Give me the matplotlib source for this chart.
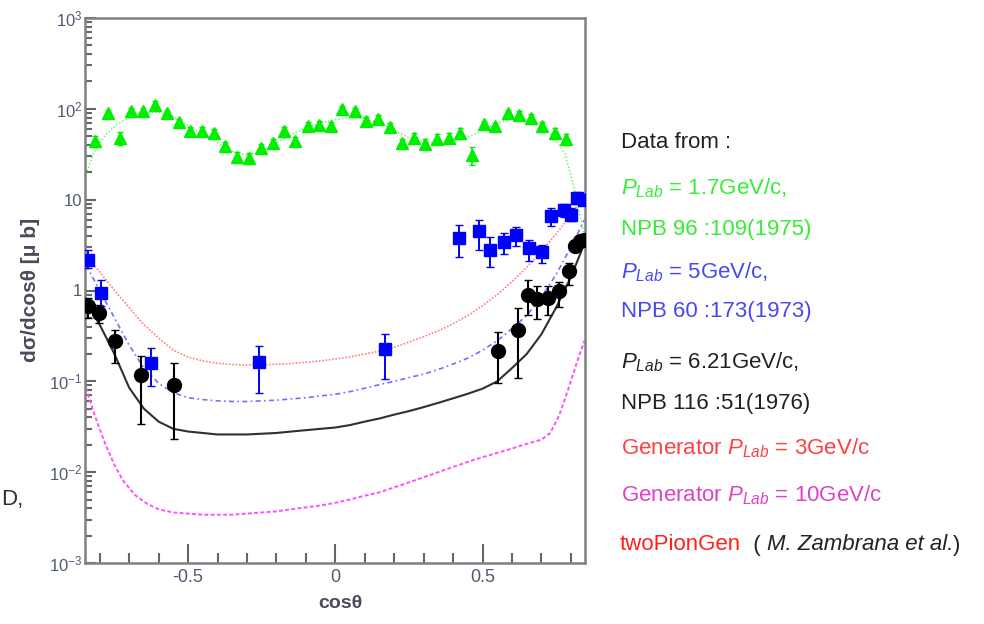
import matplotlib
matplotlib.use("Agg")
from matplotlib import pyplot as plt
from matplotlib.ticker import FixedLocator, FixedFormatter, LogLocator, NullFormatter

plt.rcParams['font.family'] = ['Liberation Sans', 'DejaVu Sans']
plt.rcParams['mathtext.fontset'] = 'custom'
plt.rcParams['mathtext.rm'] = 'Liberation Sans'
plt.rcParams['mathtext.it'] = 'Liberation Sans:italic'
plt.rcParams['axes.unicode_minus'] = False

# data points: P_lab = 1.7 GeV/c (green)
green_x = [-0.815, -0.772, -0.732, -0.693, -0.654, -0.613, -0.571, -0.532, -0.493, -0.453,
           -0.413, -0.374, -0.334, -0.294, -0.252, -0.213, -0.175, -0.136, -0.093, -0.054,
           -0.015, 0.024, 0.066, 0.105, 0.145, 0.187, 0.227, 0.266, 0.306, 0.346,
           0.385, 0.425, 0.464, 0.504, 0.544, 0.586, 0.625, 0.665, 0.702, 0.745, 0.784]
green_y = [43.8, 90, 47.7, 93.7, 93.7, 111, 90, 71, 56.5, 56.5,
           54.2, 38.6, 29.5, 28.7, 37, 42, 56.5, 43.8, 65.2, 66.9,
           65.2, 98.4, 93.7, 74, 77.9, 63.1, 42, 47.7, 41.3, 46.5,
           47.7, 54.2, 31.3, 68.1, 64.1, 90, 86.2, 79.3, 64.1, 54.2, 46.5]
green_err = [6, 8, 8, 8, 8, 10, 8, 7, 6, 6, 6, 5, 4, 4, 4, 5, 6, 5, 6, 6,
             6, 8, 8, 7, 7, 6, 5, 6, 5, 6, 6, 7, 7, 6, 6, 8, 8, 8, 8, 8, 7]

# P_lab = 5 GeV/c (blue)
blue_x = [-0.839, -0.795, -0.626, -0.260, 0.168, 0.421, 0.487, 0.527, 0.572, 0.615,
          0.657, 0.703, 0.734, 0.776, 0.799, 0.821, 0.845]
blue_y = [2.18, 0.94, 0.161, 0.163, 0.227, 3.78, 4.48, 2.76, 3.39, 4.11,
          2.94, 2.63, 6.54, 7.62, 6.83, 10.4, 10.0]
blue_hi = [2.81, 1.29, 0.233, 0.242, 0.332, 5.31, 6.0, 3.88, 4.29, 4.95,
           3.56, 3.19, 8.1, 9.0, 8.0, 12.0, 11.5]
blue_lo = [1.77, 0.668, 0.088, 0.0753, 0.107, 2.34, 2.81, 1.81, 2.54, 3.06,
           2.09, 2.0, 5.08, 6.4, 5.8, 9.0, 8.8]

# P_lab = 6.21 GeV/c (black)
black_x = [-0.840, -0.804, -0.747, -0.660, -0.548, 0.552, 0.619, 0.655, 0.685, 0.722,
           0.759, 0.793, 0.815, 0.832, 0.846]
black_y = [0.68, 0.565, 0.275, 0.118, 0.092, 0.217, 0.37, 0.90, 0.81, 0.83,
           0.98, 1.62, 3.11, 3.5, 3.6]
black_hi = [0.82, 0.70, 0.37, 0.188, 0.159, 0.349, 0.64, 1.31, 1.13, 1.13,
            1.25, 2.0, 3.6, 3.9, 4.0]
black_lo = [0.50, 0.44, 0.159, 0.034, 0.0232, 0.096, 0.109, 0.54, 0.486, 0.54,
            0.66, 1.16, 2.7, 3.1, 3.2]

# generator curves
curve_x = [-0.846, -0.80, -0.75, -0.70, -0.65, -0.60, -0.55, -0.50, -0.45, -0.40,
           -0.35, -0.30, -0.25, -0.20, -0.15, -0.10, -0.05, 0.0, 0.05, 0.10,
           0.15, 0.20, 0.25, 0.30, 0.35, 0.40, 0.45, 0.50, 0.55, 0.60,
           0.65, 0.70, 0.75, 0.80, 0.846]
red_y = [2.4, 1.6, 1.0, 0.65, 0.42, 0.30, 0.22, 0.185, 0.168, 0.158,
         0.153, 0.151, 0.152, 0.154, 0.157, 0.162, 0.168, 0.176, 0.186, 0.20,
         0.215, 0.237, 0.27, 0.31, 0.36, 0.43, 0.53, 0.68, 0.90, 1.25,
         1.8, 2.7, 4.2, 6.8, 11.0]
blue_curve_y = [1.9, 1.0, 0.5, 0.25, 0.14, 0.095, 0.075, 0.066, 0.063, 0.061,
                0.060, 0.060, 0.061, 0.062, 0.064, 0.066, 0.069, 0.072, 0.077, 0.084,
                0.092, 0.10, 0.11, 0.12, 0.135, 0.155, 0.18, 0.22, 0.28, 0.38,
                0.53, 0.85, 1.5, 3.0, 6.0]
black_curve_y = [0.75, 0.42, 0.20, 0.085, 0.05, 0.036, 0.030, 0.028, 0.027, 0.026,
                 0.026, 0.026, 0.0265, 0.027, 0.028, 0.029, 0.030, 0.031, 0.033, 0.036,
                 0.039, 0.043, 0.047, 0.052, 0.058, 0.065, 0.073, 0.083, 0.10, 0.14,
                 0.20, 0.33, 0.65, 1.4, 3.3]

mag_x = [-0.846, -0.82, -0.80, -0.78, -0.75, -0.72, -0.68, -0.64, -0.60, -0.55,
         -0.50, -0.45, -0.40, -0.35, -0.30, -0.25, -0.20, -0.15, -0.10, -0.05,
         0.0, 0.05, 0.10, 0.15, 0.20, 0.25, 0.30, 0.35, 0.40, 0.45,
         0.50, 0.55, 0.60, 0.65, 0.70, 0.73, 0.76, 0.79, 0.82, 0.846]
mag_y = [0.085, 0.045, 0.03, 0.02, 0.012, 0.008, 0.0056, 0.0045, 0.0039, 0.0036,
         0.0035, 0.0034, 0.0034, 0.0034, 0.0035, 0.0036, 0.0037, 0.0039, 0.0041, 0.0043,
         0.0046, 0.005, 0.0055, 0.006, 0.0068, 0.0077, 0.0088, 0.010, 0.0114, 0.013,
         0.0146, 0.0163, 0.0182, 0.0205, 0.0228, 0.027, 0.042, 0.08, 0.16, 0.28]

green_curve_x = [-0.846, -0.82, -0.78, -0.74, -0.70, -0.65, -0.60, -0.55, -0.50, -0.45,
                 -0.40, -0.35, -0.30, -0.25, -0.20, -0.15, -0.10, -0.05, 0.0, 0.05,
                 0.10, 0.15, 0.20, 0.25, 0.30, 0.35, 0.40, 0.45, 0.50, 0.55,
                 0.60, 0.65, 0.70, 0.74, 0.78, 0.81, 0.83, 0.846]
green_curve_y = [19, 33, 52, 68, 80, 90, 92, 82, 65, 52,
                 42, 34, 31, 34, 42, 52, 62, 70, 76, 80,
                 78, 70, 58, 48, 43, 42, 43, 48, 58, 70,
                 78, 76, 64, 50, 32, 14, 7, 4]

y_ticks = [1e-3, 1e-2, 1e-1, 1, 10, 1e2, 1e3]
y_labels = ['$10^{-3}$', '$10^{-2}$', '$10^{-1}$', '1', '10', '$10^{2}$', '$10^{3}$']
x_ticks = [-0.5, 0, 0.5]
x_labels = ['-0.5', '0', '0.5']
x_minor = [-0.8, -0.7, -0.6, -0.4, -0.3, -0.2, -0.1, 0.1, 0.2, 0.3, 0.4, 0.6, 0.7, 0.8]

fig = plt.figure(figsize=(9.84, 6.24), dpi=100)
ax = fig.add_axes([85/984, 1 - 563/624, 500/984, 545/624])

ax.plot(green_curve_x, green_curve_y, color='#40ff40', lw=1.0, ls=(0, (1, 1.5)))
ax.plot(curve_x, red_y, color='#ff8080', lw=1.2, ls=(0, (1, 1)))
ax.plot(curve_x, blue_curve_y, color='#7070ff', lw=1.2, ls=(0, (3, 2, 1, 2)))
ax.plot(curve_x, black_curve_y, color='#303030', lw=1.5, ls='-')
ax.plot(mag_x, mag_y, color='#ff50ff', lw=1.4, ls=(0, (2, 1.2)))

ax.errorbar(green_x, green_y, yerr=green_err, fmt='^', color='#00ee00', ms=9,
            mec='#00ee00', elinewidth=1.2, capsize=2.5, zorder=3)
b_err = [[y - lo for y, lo in zip(blue_y, blue_lo)], [hi - y for y, hi in zip(blue_y, blue_hi)]]
ax.errorbar(blue_x, blue_y, yerr=b_err, fmt='s', color='#0000ff', ms=8.5,
            elinewidth=1.4, capsize=3, zorder=4)
k_err = [[y - lo for y, lo in zip(black_y, black_lo)], [hi - y for y, hi in zip(black_y, black_hi)]]
ax.errorbar(black_x, black_y, yerr=k_err, fmt='o', color='#000000', ms=10,
            elinewidth=1.5, capsize=3, zorder=5)

ax.set_yscale('log')
ax.set_xlim(-0.85, 0.848)
ax.set_ylim(1e-3, 1e3)
ax.yaxis.set_major_locator(FixedLocator(y_ticks))
ax.yaxis.set_major_formatter(FixedFormatter(y_labels))
ax.yaxis.set_minor_locator(LogLocator(base=10, subs=range(2, 10), numticks=20))
ax.yaxis.set_minor_formatter(NullFormatter())
ax.xaxis.set_major_locator(FixedLocator(x_ticks))
ax.xaxis.set_major_formatter(FixedFormatter(x_labels))
ax.xaxis.set_minor_locator(FixedLocator(x_minor))

ax.tick_params(which='both', direction='in', top=False, right=False, colors='#666666', width=1.5)
ax.tick_params(which='major', axis='y', length=8, pad=2, labelsize=12, labelcolor='#505a70')
ax.tick_params(which='minor', axis='y', length=5)
ax.tick_params(which='major', axis='x', length=14, pad=4, labelsize=13, labelcolor='#505a70')
ax.tick_params(which='minor', axis='x', length=7)
for side in ['left', 'bottom', 'top', 'right']:
    ax.spines[side].set_color('#808080')
    ax.spines[side].set_linewidth(1.8)

fig.text(30/984, 1 - 290/624, 'dσ/dcosθ [μ b]', rotation=90, ha='center', va='center',
         fontsize=15, fontweight='bold', color='#4a4a5a')
fig.text(340/984, 1 - 604/624, 'cosθ', ha='center', va='center',
         fontsize=14, fontweight='bold', color='#4a4a5a')
fig.text(1/984, 1 - 500/624, 'D,', ha='left', va='center', fontsize=16, color='#303030')

legend_lines = [
    ('Data from :', '#222222', 143),
    ('$P_{Lab}$ = 1.7GeV/c,', '#33ee33', 188),
    ('NPB 96 :109(1975)', '#33ee33', 229),
    ('$P_{Lab}$ = 5GeV/c,', '#4848f0', 272),
    ('NPB 60 :173(1973)', '#4848f0', 312),
    ('$P_{Lab}$ = 6.21GeV/c,', '#222222', 362),
    ('NPB 116 :51(1976)', '#222222', 403),
    ('Generator $P_{Lab}$ = 3GeV/c', '#ff4040', 448),
    ('Generator $P_{Lab}$ = 10GeV/c', '#e040c8', 495),
]
for txt, col, py in legend_lines:
    fig.text(621/984, 1 - py/624, txt, ha='left', va='center', fontsize=16, color=col)

# last line: several colours / styles chained one after another
t1 = fig.text(620/984, 1 - 545/624, 'twoPionGen', ha='left', va='center', fontsize=16,
              color='#ff2020')
t2 = plt.annotate('  ( ', xy=(1, 0), xycoords=t1, va='bottom', ha='left',
                  fontsize=16, color='#222222')
t3 = plt.annotate('M. Zambrana et al.', xy=(1, 0), xycoords=t2, va='bottom', ha='left',
                  fontsize=16, style='italic', color='#222222')
plt.annotate(')', xy=(1, 0), xycoords=t3, va='bottom', ha='left',
             fontsize=16, color='#222222')

fig.savefig('out.png', dpi=100)
